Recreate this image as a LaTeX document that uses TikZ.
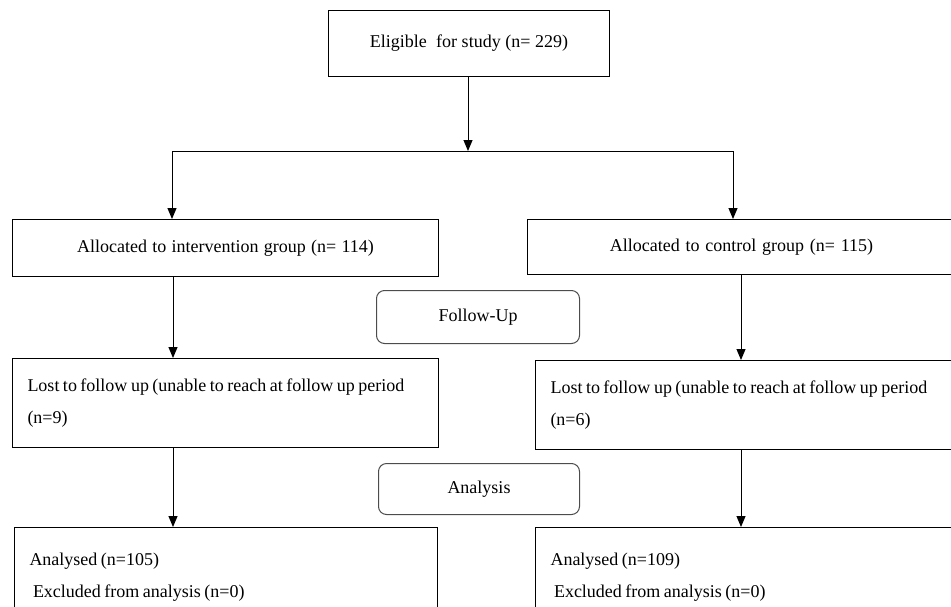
\documentclass[tikz,border=0pt]{standalone}
\usepackage{fontspec}
\setmainfont{Liberation Serif}
\usetikzlibrary{arrows.meta}
\begin{document}
\begin{tikzpicture}[x=1pt,y=-1pt,
  line width=1pt,
  txt/.style={font={\fontsize{18}{32}\selectfont},
    execute at begin node={\spaceskip=3.5pt plus 1pt\hyphenpenalty=10000\relax}},
  cbox/.style={draw, txt, anchor=north west, inner ysep=0pt, inner xsep=0pt, align=center},
  lbox/.style={draw, txt, anchor=north west, inner ysep=0pt, inner xsep=15pt, align=left},
  rbox/.style={draw=black!70, rounded corners=8pt, txt, anchor=north west, inner sep=0pt, align=center},
  arr/.style={-{Triangle[length=11pt,width=9pt]}}
]
\useasboundingbox (0,0) rectangle (951,606);
\clip (0,0) rectangle (951,606);

\node[cbox, text width=281pt, minimum height=66pt] (elig) at (328,10) {Eligible\ \ for study (n= 229)};

\coordinate (split) at (468,151);
\coordinate (lsplit) at (172,151);
\coordinate (rsplit) at (733,151);

\node[cbox, text width=426pt, minimum height=57pt] (allocI) at (12,219) {Allocated to intervention group (n= 114)};
\node[cbox, text width=428pt, minimum height=55pt] (allocC) at (527,219) {Allocated to control group (n= 115)};

\node[rbox, text width=203pt, minimum height=53pt] (follow) at (376,290) {Follow-Up};

\node[lbox, text width=396pt, minimum height=89pt] (lostI) at (12,358) {Lost to follow up (unable to reach at follow up period\\(n=9)};
\node[lbox, text width=390pt, minimum height=89pt] (lostC) at (535,360) {Lost to follow up (unable to reach at follow up period\\(n=6)};

\node[rbox, text width=201pt, minimum height=51pt] (analysis) at (378,463) {Analysis};

\node[lbox, text width=393pt, minimum height=100pt] (anaI) at (14,527) {Analysed (n=105)\\\ Excluded from analysis (n=0)};
\node[lbox, text width=390pt, minimum height=100pt] (anaC) at (535,527) {Analysed (n=109)\\\ Excluded from analysis (n=0)};

\draw[arr] (elig.south -| split) -- (split);
\draw (lsplit) -- (rsplit);
\draw[arr] (lsplit) -- (lsplit |- allocI.north);
\draw[arr] (rsplit) -- (rsplit |- allocC.north);

\coordinate (lx) at (173,0);
\coordinate (rx) at (741,0);
\draw[arr] (lx |- allocI.south) -- (lx |- lostI.north);
\draw[arr] (rx |- allocC.south) -- (rx |- lostC.north);
\draw[arr] (lx |- lostI.south) -- (lx |- anaI.north);
\draw[arr] (rx |- lostC.south) -- (rx |- anaC.north);
\end{tikzpicture}
\end{document}
